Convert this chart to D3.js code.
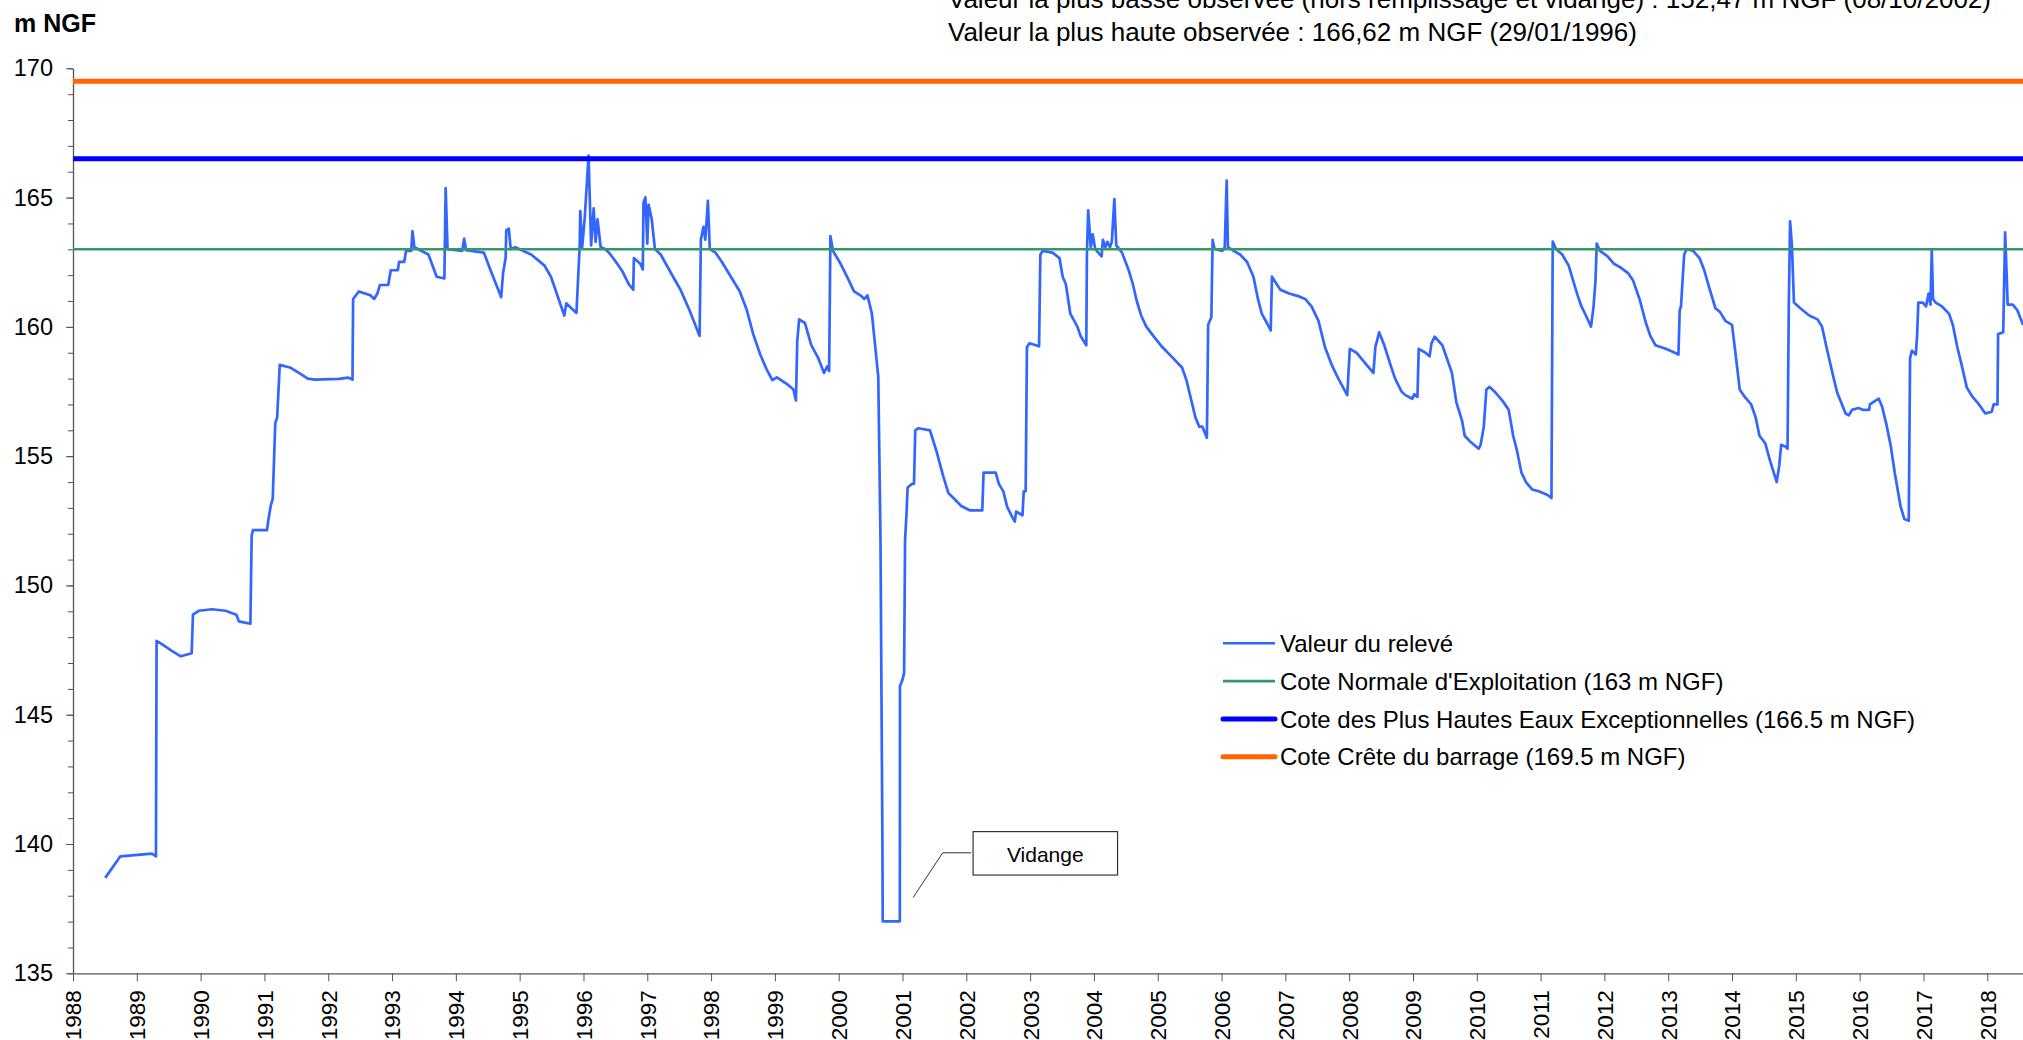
<!DOCTYPE html>
<html>
<head>
<meta charset="utf-8">
<script src="https://cdn.jsdelivr.net/npm/d3@7"></script>
<style>
  body { margin: 0; background: #fff; }
  svg { display: block; font-family: "Liberation Sans", Arial, sans-serif; }
</style>
</head>
<body>
<svg id="chart"></svg>
<script>
// relevés : date (années décimales) et cote (m NGF)
var dates = [
  1988.505, 1988.74, 1989.236, 1989.30, 1989.31, 1989.41, 1989.56, 1989.69, 1989.86, 1989.88,
  1989.97, 1990.18, 1990.39, 1990.56, 1990.60, 1990.78, 1990.80, 1990.82, 1991.04, 1991.06,
  1991.10, 1991.13, 1991.17, 1991.20, 1991.24, 1991.40, 1991.54, 1991.68, 1991.79, 1992.17,
  1992.31, 1992.38, 1992.39, 1992.48, 1992.66, 1992.72, 1992.77, 1992.81, 1992.94, 1992.98,
  1993.09, 1993.11, 1993.19, 1993.22, 1993.30, 1993.32, 1993.35, 1993.57, 1993.70, 1993.82,
  1993.84, 1993.87, 1994.10, 1994.13, 1994.16, 1994.44, 1994.55, 1994.71, 1994.74, 1994.78,
  1994.79, 1994.83, 1994.86, 1994.93, 1995.18, 1995.39, 1995.49, 1995.70, 1995.73, 1995.81,
  1995.89, 1995.91, 1995.94, 1995.95, 1995.98, 1996.02, 1996.08, 1996.12, 1996.16, 1996.19,
  1996.22, 1996.27, 1996.34, 1996.40, 1996.51, 1996.61, 1996.71, 1996.78, 1996.79, 1996.89,
  1996.93, 1996.94, 1996.97, 1997.00, 1997.02, 1997.07, 1997.12, 1997.21, 1997.42, 1997.52,
  1997.66, 1997.82, 1997.84, 1997.88, 1997.91, 1997.95, 1997.98, 1998.07, 1998.17, 1998.31,
  1998.45, 1998.56, 1998.66, 1998.77, 1998.87, 1998.96, 1999.03, 1999.19, 1999.29, 1999.33,
  1999.35, 1999.38, 1999.47, 1999.57, 1999.68, 1999.77, 1999.82, 1999.85, 1999.87, 1999.91,
  2000.03, 2000.13, 2000.24, 2000.34, 2000.40, 2000.45, 2000.52, 2000.62, 2000.655, 2000.685,
  2000.69, 2000.958, 2000.96, 2000.999, 2001.025, 2001.04, 2001.06, 2001.08, 2001.15, 2001.18,
  2001.20, 2001.25, 2001.43, 2001.53, 2001.64, 2001.72, 2001.81, 2001.92, 2002.06, 2002.25,
  2002.27, 2002.46, 2002.51, 2002.58, 2002.64, 2002.72, 2002.76, 2002.78, 2002.88, 2002.90,
  2002.93, 2002.95, 2002.99, 2003.14, 2003.16, 2003.20, 2003.35, 2003.46, 2003.51, 2003.56,
  2003.63, 2003.74, 2003.79, 2003.88, 2003.89, 2003.91, 2003.95, 2003.98, 2004.02, 2004.12,
  2004.14, 2004.18, 2004.21, 2004.25, 2004.28, 2004.32, 2004.35, 2004.44, 2004.54, 2004.61,
  2004.67, 2004.74, 2004.82, 2004.93, 2005.07, 2005.24, 2005.38, 2005.45, 2005.52, 2005.59,
  2005.65, 2005.70, 2005.77, 2005.79, 2005.84, 2005.86, 2005.89, 2006.01, 2006.05, 2006.08,
  2006.10, 2006.19, 2006.29, 2006.40, 2006.50, 2006.57, 2006.63, 2006.71, 2006.77, 2006.79,
  2006.92, 2007.06, 2007.20, 2007.31, 2007.41, 2007.52, 2007.62, 2007.73, 2007.83, 2007.97,
  2008.01, 2008.11, 2008.28, 2008.38, 2008.41, 2008.47, 2008.55, 2008.65, 2008.72, 2008.82,
  2008.88, 2008.99, 2009.02, 2009.07, 2009.09, 2009.19, 2009.26, 2009.29, 2009.34, 2009.46,
  2009.55, 2009.61, 2009.68, 2009.77, 2009.81, 2009.89, 2010.03, 2010.06, 2010.11, 2010.15,
  2010.20, 2010.30, 2010.40, 2010.50, 2010.57, 2010.63, 2010.70, 2010.77, 2010.87, 2010.97,
  2011.11, 2011.17, 2011.19, 2011.24, 2011.34, 2011.44, 2011.51, 2011.58, 2011.64, 2011.71,
  2011.79, 2011.83, 2011.86, 2011.88, 2011.93, 2012.05, 2012.15, 2012.25, 2012.37, 2012.45,
  2012.55, 2012.65, 2012.72, 2012.80, 2012.96, 2013.06, 2013.16, 2013.18, 2013.20, 2013.25,
  2013.29, 2013.39, 2013.49, 2013.56, 2013.66, 2013.74, 2013.81, 2013.90, 2014.00, 2014.07,
  2014.12, 2014.20, 2014.30, 2014.37, 2014.43, 2014.52, 2014.60, 2014.70, 2014.74, 2014.77,
  2014.84, 2014.87, 2014.89, 2014.91, 2014.94, 2014.97, 2015.07, 2015.21, 2015.34, 2015.41,
  2015.48, 2015.58, 2015.65, 2015.71, 2015.78, 2015.83, 2015.88, 2015.98, 2016.05, 2016.15,
  2016.16, 2016.25, 2016.30, 2016.35, 2016.42, 2016.49, 2016.55, 2016.64, 2016.70, 2016.77,
  2016.79, 2016.82, 2016.88, 2016.90, 2016.92, 2016.99, 2017.04, 2017.08, 2017.11, 2017.13,
  2017.15, 2017.19, 2017.29, 2017.40, 2017.46, 2017.53, 2017.60, 2017.68, 2017.77, 2017.87,
  2017.97, 2018.07, 2018.10, 2018.16, 2018.17, 2018.25, 2018.28, 2018.32, 2018.40, 2018.47,
  2018.56
];
var levels = [
  138.69, 139.52, 139.63, 139.52, 147.86, 147.70, 147.45, 147.26, 147.38, 148.87,
  149.02, 149.08, 149.02, 148.87, 148.61, 148.52, 151.92, 152.14, 152.14, 152.50,
  153.10, 153.35, 156.28, 156.50, 158.53, 158.43, 158.22, 158.00, 157.96, 157.99,
  158.04, 157.96, 161.08, 161.37, 161.22, 161.08, 161.29, 161.62, 161.62, 162.19,
  162.19, 162.51, 162.51, 162.94, 162.94, 163.70, 163.08, 162.80, 161.94, 161.87,
  165.37, 163.01, 162.94, 163.41, 162.97, 162.87, 162.15, 161.15, 162.08, 162.66,
  163.73, 163.80, 163.01, 163.08, 162.80, 162.37, 161.94, 160.44, 160.91, 160.72,
  160.54, 161.58, 163.08, 164.48, 163.08, 164.23, 166.62, 163.15, 164.58, 163.29,
  164.16, 163.08, 163.01, 162.87, 162.51, 162.15, 161.65, 161.44, 162.66, 162.44,
  162.22, 164.80, 165.01, 163.22, 164.73, 164.16, 163.01, 162.80, 161.87, 161.44,
  160.65, 159.65, 163.37, 163.87, 163.37, 164.87, 163.01, 162.87, 162.51, 161.94,
  161.37, 160.65, 159.72, 158.93, 158.36, 157.94, 158.05, 157.79, 157.58, 157.15,
  159.44, 160.29, 160.15, 159.29, 158.79, 158.22, 158.47, 158.29, 163.51, 162.94,
  162.44, 161.94, 161.37, 161.22, 161.08, 161.22, 160.51, 158.08, 151.77, 140.04,
  137.01, 137.01, 146.10, 146.35, 146.61, 151.77, 152.64, 153.79, 153.93, 153.93,
  156.00, 156.08, 156.00, 155.21, 154.21, 153.57, 153.35, 153.07, 152.90, 152.90,
  154.36, 154.36, 153.93, 153.64, 153.04, 152.64, 152.47, 152.86, 152.71, 153.64,
  153.64, 159.22, 159.37, 159.25, 162.80, 162.94, 162.87, 162.66, 161.94, 161.65,
  160.51, 160.01, 159.65, 159.29, 162.80, 164.51, 163.08, 163.58, 163.01, 162.73,
  163.37, 163.08, 163.29, 163.08, 163.29, 164.94, 163.15, 162.87, 162.22, 161.65,
  161.01, 160.44, 160.01, 159.65, 159.22, 158.79, 158.43, 157.94, 157.22, 156.50,
  156.14, 156.14, 155.71, 160.08, 160.37, 163.37, 163.01, 162.94, 163.08, 165.66,
  163.08, 162.94, 162.80, 162.51, 161.94, 161.08, 160.51, 160.15, 159.86, 161.94,
  161.44, 161.29, 161.19, 161.08, 160.79, 160.22, 159.22, 158.51, 158.00, 157.36,
  159.15, 159.01, 158.51, 158.22, 159.22, 159.79, 159.29, 158.51, 158.00, 157.50,
  157.36, 157.22, 157.39, 157.29, 159.15, 159.01, 158.86, 159.36, 159.62, 159.29,
  158.65, 158.22, 157.08, 156.36, 155.79, 155.58, 155.29, 155.44, 156.14, 157.58,
  157.68, 157.44, 157.15, 156.79, 155.79, 155.21, 154.36, 154.00, 153.71, 153.64,
  153.50, 153.38, 163.30, 163.01, 162.80, 162.37, 161.79, 161.22, 160.79, 160.44,
  160.01, 160.79, 161.79, 163.22, 162.94, 162.73, 162.44, 162.30, 162.08, 161.79,
  161.08, 160.15, 159.65, 159.29, 159.15, 159.05, 158.93, 160.65, 160.79, 162.80,
  163.01, 162.94, 162.66, 162.22, 161.37, 160.72, 160.58, 160.22, 160.08, 158.65,
  157.58, 157.29, 157.00, 156.50, 155.79, 155.50, 154.79, 154.00, 154.64, 155.44,
  155.36, 155.29, 160.94, 164.08, 163.08, 160.94, 160.72, 160.44, 160.29, 160.01,
  159.22, 158.15, 157.44, 157.08, 156.65, 156.58, 156.79, 156.86, 156.79, 156.79,
  157.00, 157.15, 157.22, 156.93, 156.22, 155.36, 154.36, 153.07, 152.57, 152.50,
  158.79, 159.08, 158.93, 159.65, 160.94, 160.94, 160.79, 161.29, 160.86, 162.97,
  161.08, 160.94, 160.79, 160.51, 160.08, 159.22, 158.51, 157.65, 157.29, 157.00,
  156.65, 156.72, 157.00, 157.00, 159.72, 159.79, 163.66, 160.86, 160.86, 160.65,
  160.08
];

// cotes de référence
var refNames = [
  "Cote Normale d'Exploitation (163 m NGF)",
  "Cote des Plus Hautes Eaux Exceptionnelles (166.5 m NGF)",
  "Cote Crête du barrage (169.5 m NGF)"
];
var refLevels = [163, 166.5, 169.5];
var seriesName = "Valeur du relevé";

var yearTicks = d3.range(1988, 2019);
var yMajorTicks = d3.range(135, 171, 5);
var yMinorTicks = d3.range(135, 171, 1);

var infoLines = [
  "Valeur la plus basse observée (hors remplissage et vidange) : 152,47 m NGF (08/10/2002)",
  "Valeur la plus haute observée : 166,62 m NGF (29/01/1996)"
];

// styles
var dataColor = "#3366ff";
var refColors = ["#339966", "#0000ff", "#ff6600"];
var refWidths = [2.6, 5, 5];

var width = 2023, height = 1040;
var svg = d3.select("#chart").attr("width", width).attr("height", height);

var x = d3.scaleLinear().domain([1988, 2018.56]).range([73, 2023]);
var y = d3.scaleLinear().domain([135, 170]).range([973.3, 68.3]);

svg.append("defs").append("clipPath").attr("id", "plot")
  .append("rect").attr("x", 73).attr("y", 0).attr("width", width - 73).attr("height", 974);

// axes
var yMinor = svg.append("g")
  .attr("transform", "translate(73,0)")
  .call(d3.axisLeft(y).tickValues(yMinorTicks).tickSize(5).tickFormat(""));
yMinor.select(".domain").remove();
yMinor.selectAll("line").attr("stroke", "#555");

var yAxis = svg.append("g")
  .attr("transform", "translate(73,0)")
  .call(d3.axisLeft(y).tickValues(yMajorTicks).tickSize(7).tickPadding(13).tickSizeOuter(0));
yAxis.select(".domain").attr("stroke", "#555").attr("stroke-width", 1.3);
yAxis.selectAll("line").attr("stroke", "#555");
yAxis.selectAll("text").attr("font-size", 23.5).attr("font-family", "Liberation Sans, Arial, sans-serif").attr("fill", "#000");

var xAxis = svg.append("g")
  .attr("transform", "translate(0,973.3)")
  .call(d3.axisBottom(x).tickValues(yearTicks).tickSize(8).tickSizeOuter(0).tickFormat(d3.format("d")));
xAxis.select(".domain").attr("stroke", "#555").attr("stroke-width", 1.3);
xAxis.selectAll("line").attr("stroke", "#555");
xAxis.selectAll("text")
  .attr("transform", "rotate(-90)")
  .attr("x", -17).attr("y", 0).attr("dy", "0.35em")
  .style("text-anchor", "end")
  .attr("font-size", 22.5).attr("font-family", "Liberation Sans, Arial, sans-serif").attr("fill", "#000");

// courbe des relevés
var pts = dates.map(function(d, i) { return [d, levels[i]]; });
var line = d3.line()
  .x(function(d) { return x(d[0]); })
  .y(function(d) { return y(d[1]); });

var plot = svg.append("g").attr("clip-path", "url(#plot)");
plot.append("path")
  .datum(pts)
  .attr("fill", "none")
  .attr("stroke", dataColor)
  .attr("stroke-width", 2.7)
  .attr("stroke-linejoin", "round")
  .attr("d", line);

plot.selectAll(".ref")
  .data(refLevels)
  .enter().append("line")
  .attr("class", "ref")
  .attr("x1", x(1988)).attr("x2", width)
  .attr("y1", function(d) { return y(d); })
  .attr("y2", function(d) { return y(d); })
  .attr("stroke", function(d, i) { return refColors[i]; })
  .attr("stroke-width", function(d, i) { return refWidths[i]; });

// titre d'axe
svg.append("text")
  .attr("x", 14).attr("y", 32)
  .attr("font-size", 25).attr("font-weight", "bold")
  .text("m NGF");

// valeurs extrêmes
svg.selectAll(".info")
  .data(infoLines)
  .enter().append("text")
  .attr("class", "info")
  .attr("x", 948).attr("y", function(d, i) { return 8 + i * 32.5; })
  .attr("font-size", 26)
  .text(function(d) { return d; });

// légende
var legendNames = [seriesName].concat(refNames);
var legendColors = [dataColor].concat(refColors);
var legendWidths = [2.5].concat(refWidths);
var legend = svg.append("g").attr("transform", "translate(1223,643.3)");
var rows = legend.selectAll("g")
  .data(legendNames)
  .enter().append("g")
  .attr("transform", function(d, i) { return "translate(0," + (i * 37.8) + ")"; });
rows.append("line")
  .attr("x1", 0).attr("x2", 52)
  .attr("stroke", function(d, i) { return legendColors[i]; })
  .attr("stroke-width", function(d, i) { return legendWidths[i]; })
  .attr("stroke-linecap", function(d, i) { return i > 1 ? "round" : "butt"; });
rows.append("text")
  .attr("x", 57).attr("dy", "0.36em")
  .attr("font-size", 24)
  .text(function(d) { return d; });

// annotation "Vidange"
var note = { px: 2001.166, pv: 137.93, kx: 2001.63, kv: 139.66, bx0: 2002.106, bx1: 2004.37, bv0: 140.48, bv1: 138.8 };
svg.append("path")
  .attr("fill", "none").attr("stroke", "#333").attr("stroke-width", 1)
  .attr("d", "M" + x(note.px) + "," + y(note.pv) + "L" + x(note.kx) + "," + y(note.kv) + "L" + (x(note.bx0) - 2) + "," + y(note.kv));
svg.append("rect")
  .attr("x", x(note.bx0)).attr("y", y(note.bv0))
  .attr("width", x(note.bx1) - x(note.bx0)).attr("height", y(note.bv1) - y(note.bv0))
  .attr("fill", "#fff").attr("stroke", "#333").attr("stroke-width", 1.2);
svg.append("text")
  .attr("x", (x(note.bx0) + x(note.bx1)) / 2).attr("y", y(note.bv1) - 13)
  .attr("text-anchor", "middle").attr("font-size", 21)
  .text("Vidange");
</script>
</body>
</html>
